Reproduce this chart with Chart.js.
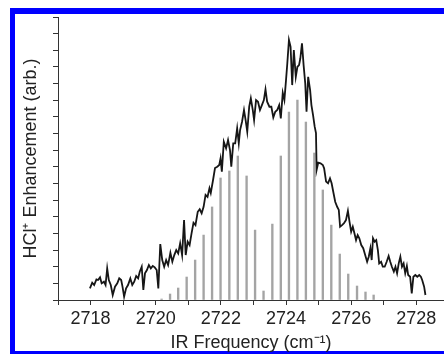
<!DOCTYPE html>
<html>
<head>
<meta charset="utf-8">
<script src="https://cdn.jsdelivr.net/npm/chart.js@4"></script>
<style>
  html, body { margin: 0; padding: 0; background: #fff; overflow: hidden; }
  #chart { display: block; }
</style>
</head>
<body>
<canvas id="chart" width="444" height="354"></canvas>
<script>
// measured spectrum (black trace)
const freqCm = [
  2717.98, 2718.05, 2718.11, 2718.18, 2718.23, 2718.29, 2718.34, 2718.41, 2718.46, 2718.51,
  2718.56, 2718.62, 2718.68, 2718.75, 2718.82, 2718.88, 2718.94, 2718.98, 2719.03, 2719.09,
  2719.15, 2719.22, 2719.28, 2719.34, 2719.40, 2719.46, 2719.51, 2719.57, 2719.62, 2719.67,
  2719.73, 2719.79, 2719.85, 2719.91, 2719.97, 2720.03, 2720.08, 2720.14, 2720.20, 2720.26,
  2720.32, 2720.38, 2720.45, 2720.51, 2720.57, 2720.63, 2720.69, 2720.75, 2720.81, 2720.87,
  2720.92, 2720.98, 2721.04, 2721.10, 2721.16, 2721.22, 2721.29, 2721.35, 2721.41, 2721.47,
  2721.53, 2721.59, 2721.65, 2721.69, 2721.76, 2721.82, 2721.89, 2721.95, 2721.99, 2722.03,
  2722.09, 2722.16, 2722.22, 2722.28, 2722.32, 2722.38, 2722.44, 2722.50, 2722.55, 2722.59,
  2722.65, 2722.71, 2722.76, 2722.81, 2722.87, 2722.92, 2722.98, 2723.02, 2723.08, 2723.14,
  2723.20, 2723.26, 2723.32, 2723.37, 2723.42, 2723.49, 2723.55, 2723.61, 2723.67, 2723.73,
  2723.79, 2723.84, 2723.90, 2723.95, 2724.00, 2724.04, 2724.09, 2724.14, 2724.19, 2724.24,
  2724.30, 2724.35, 2724.40, 2724.44, 2724.49, 2724.54, 2724.59, 2724.63, 2724.68, 2724.74,
  2724.78, 2724.83, 2724.88, 2724.92, 2724.94, 2724.99, 2725.06, 2725.13, 2725.17, 2725.23,
  2725.29, 2725.35, 2725.40, 2725.45, 2725.51, 2725.57, 2725.62, 2725.66, 2725.72, 2725.78,
  2725.84, 2725.90, 2725.95, 2726.00, 2726.05, 2726.10, 2726.15, 2726.20, 2726.25, 2726.31,
  2726.37, 2726.43, 2726.49, 2726.54, 2726.59, 2726.63, 2726.67, 2726.72, 2726.77, 2726.82,
  2726.86, 2726.92, 2726.97, 2727.03, 2727.09, 2727.15, 2727.20, 2727.25, 2727.31, 2727.36,
  2727.41, 2727.46, 2727.51, 2727.56, 2727.61, 2727.66, 2727.71, 2727.75, 2727.81, 2727.86,
  2727.91, 2727.97, 2728.03, 2728.09, 2728.14, 2728.18, 2728.24, 2728.28
];
const enhancement = [
  0.70, 1.04, 0.90, 1.24, 1.20, 1.36, 1.00, 1.10, 0.90, 1.90,
  1.20, 0.90, 0.30, 0.80, 1.00, 1.30, 1.20, 0.80, 0.20, 0.70,
  0.90, 1.30, 0.90, 1.10, 1.44, 1.30, 1.70, 2.00, 0.60, 1.60,
  1.80, 2.10, 1.90, 2.04, 1.96, 1.80, 0.70, 3.36, 2.40, 2.00,
  2.40, 2.10, 2.84, 2.30, 2.70, 3.00, 2.80, 3.40, 2.70, 4.80,
  2.70, 3.50, 3.30, 4.00, 4.64, 4.50, 5.30, 5.45, 5.21, 5.60,
  6.31, 6.19, 6.71, 6.43, 7.21, 7.93, 8.01, 8.11, 8.51, 7.71,
  9.51, 9.11, 9.61, 9.01, 8.01, 9.41, 9.41, 10.31, 9.41, 10.21,
  10.71, 11.41, 10.81, 10.11, 11.61, 12.11, 11.41, 10.81, 12.01, 11.91,
  11.41, 11.71, 12.01, 12.65, 11.91, 11.61, 11.61, 10.97, 11.31, 11.41,
  11.71, 10.91, 12.45, 12.01, 13.21, 14.22, 15.62, 15.21, 12.91, 15.02,
  13.41, 14.01, 14.11, 14.52, 15.42, 14.11, 13.01, 11.31, 13.41, 12.61,
  11.71, 11.11, 10.41, 10.03, 7.81, 8.25, 8.21, 8.11, 7.91, 7.11,
  7.01, 7.31, 7.01, 6.50, 5.90, 5.60, 5.41, 4.40, 4.50, 4.61,
  4.80, 5.36, 4.70, 4.10, 4.40, 4.01, 3.60, 3.90, 3.71, 3.30,
  3.11, 2.70, 2.30, 2.60, 3.11, 2.40, 3.71, 3.50, 3.60, 3.00,
  2.20, 2.30, 2.00, 2.00, 2.30, 2.64, 2.30, 2.00, 1.70, 2.00,
  1.60, 2.20, 2.60, 2.00, 2.20, 1.60, 2.04, 1.50, 1.40, 0.40,
  1.40, 1.50, 1.40, 1.50, 1.40, 1.20, 0.80, 0.30
];

// simulated stick spectrum (gray lines)
const stickFreq = [
  2720.18, 2720.44, 2720.69, 2720.95, 2721.21, 2721.47, 2721.73, 2721.99, 2722.26, 2722.52,
  2722.79, 2723.05, 2723.31, 2723.58, 2723.84, 2724.09, 2724.35, 2724.61, 2724.87, 2725.13,
  2725.39, 2725.65, 2725.91, 2726.18, 2726.44, 2726.69
];
const stickIntensity = [
  0.06, 0.36, 0.72, 1.38, 2.40, 3.90, 5.59, 7.33, 7.75, 8.65,
  7.45, 4.20, 0.54, 4.56, 8.65, 11.29, 12.01, 10.69, 8.83, 6.61,
  4.50, 2.76, 1.56, 0.84, 0.48, 0.30
];

const xMin = 2717, xMax = 2728.85;
const yMin = 0, yMax = 17;

const fontFamily = '"Liberation Sans", Arial, Helvetica, sans-serif';
const textColor = '#222';
const axisColor = '#333';

// blue frame round the figure (open on the right, as in the source image)
const framePlugin = {
  id: 'frame',
  beforeDraw(chart) {
    const c = chart.ctx;
    c.save();
    c.fillStyle = '#fff';
    c.fillRect(0, 0, chart.width, chart.height);
    c.fillStyle = '#0000ff';
    c.fillRect(10, 8, chart.width - 10, 6);
    c.fillRect(10, 8, 5, chart.height - 8);
    c.fillRect(10, 351, chart.width - 10, 3);
    c.restore();
  }
};

const ctx = document.getElementById('chart').getContext('2d');
new Chart(ctx, {
  type: 'line',
  data: {
    datasets: [
      {
        type: 'line',
        data: freqCm.map((f, i) => ({ x: f, y: enhancement[i] })),
        borderColor: '#161616',
        borderWidth: 1.8,
        pointRadius: 0,
        tension: 0,
        fill: false
      },
      {
        type: 'bar',
        data: stickFreq.map((f, i) => ({ x: f, y: stickIntensity[i] })),
        backgroundColor: '#a4a4a4',
        barThickness: 1.7,
        grouped: false
      }
    ]
  },
  plugins: [framePlugin],
  options: {
    responsive: false,
    animation: false,
    devicePixelRatio: 1,
    layout: { padding: { top: 17, right: 0, bottom: 0, left: 0 } },
    plugins: {
      legend: { display: false },
      tooltip: { enabled: false }
    },
    scales: {
      x: {
        type: 'linear',
        min: xMin,
        max: xMax,
        offset: false,
        afterFit: (scale) => { scale.height = 54; },
        border: { display: true, color: axisColor, width: 1 },
        grid: { display: true, drawOnChartArea: false, drawTicks: true, tickLength: 5, color: axisColor, offset: false },
        ticks: {
          stepSize: 1,
          includeBounds: false,
          autoSkip: false,
          maxRotation: 0,
          padding: 3,
          color: textColor,
          font: { family: fontFamily, size: 18 },
          callback: (v) => (v % 2 === 0 ? String(v) : '')
        },
        title: {
          display: true,
          text: 'IR Frequency (cm⁻¹)',
          color: textColor,
          font: { family: fontFamily, size: 18 },
          padding: { top: 0, bottom: 0 }
        }
      },
      y: {
        type: 'linear',
        min: yMin,
        max: yMax,
        afterFit: (scale) => { scale.width = 58; },
        border: { display: true, color: axisColor, width: 1 },
        grid: { display: true, drawOnChartArea: false, drawTicks: true, tickLength: 5, color: axisColor },
        ticks: { stepSize: 1, display: false },
        title: {
          display: true,
          text: 'HCl⁺ Enhancement (arb.)',
          color: textColor,
          font: { family: fontFamily, size: 18 },
          padding: { top: 20, bottom: 0 }
        }
      }
    }
  }
});
</script>
</body>
</html>
